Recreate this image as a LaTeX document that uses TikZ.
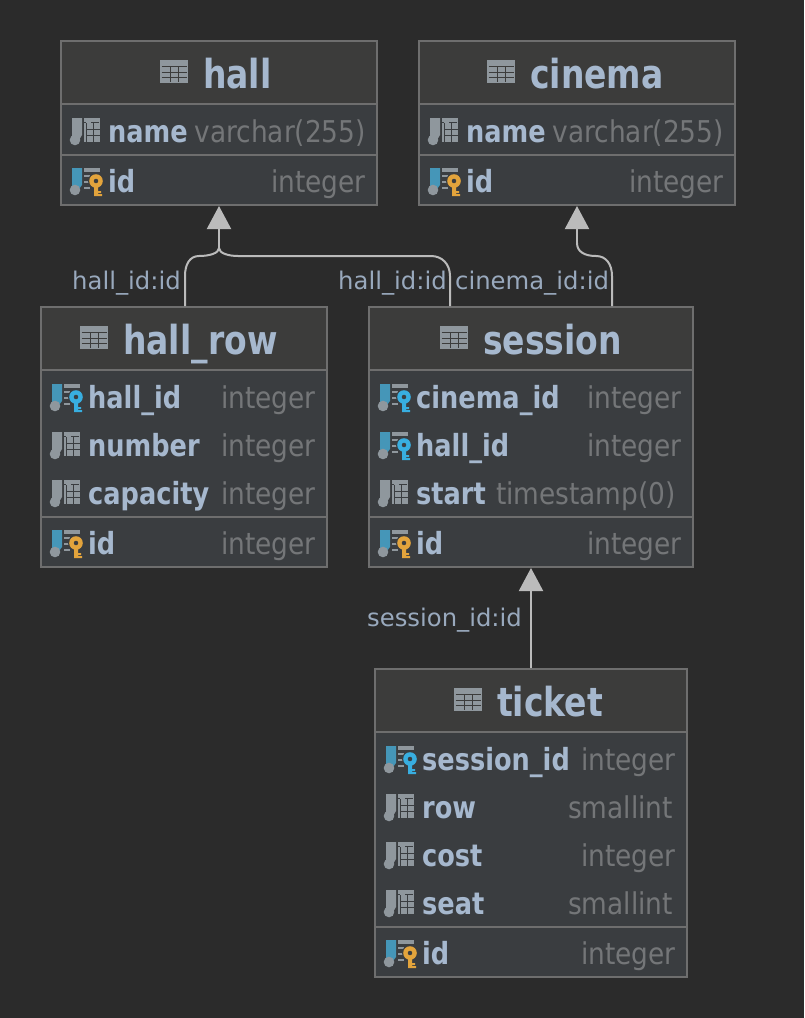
\documentclass[tikz,border=0pt]{standalone}
\usepackage{fontspec}
\setmainfont{DejaVu Sans}
\newfontfamily\narrowtitle[FakeStretch=0.825]{DejaVu Sans}
\newfontfamily\narrowbold[FakeStretch=0.84]{DejaVu Sans}
\newfontfamily\narrowtype[FakeStretch=0.88]{DejaVu Sans}
\usepackage{xcolor}
\usetikzlibrary{positioning,arrows.meta}
\definecolor{canvasbg}{HTML}{2B2B2B}
\definecolor{headbg}{HTML}{3C3C3B}
\definecolor{bodybg}{HTML}{3A3D40}
\definecolor{boxline}{HTML}{6E6E6E}
\definecolor{nametext}{HTML}{A6B8CE}
\definecolor{typetext}{HTML}{747678}
\definecolor{edgeline}{HTML}{BBBBBB}
\definecolor{icongrey}{HTML}{8F979D}
\definecolor{iconbar}{HTML}{4596B8}
\definecolor{fkkey}{HTML}{38AEE0}
\definecolor{pkkey}{HTML}{E3A43C}
\tikzset{
  headbox/.style={rectangle,draw=boxline,line width=1.5pt,fill=headbg,minimum height=63pt,inner sep=0pt,outer sep=0pt},
  bodybox/.style={rectangle,draw=boxline,line width=1.5pt,fill=bodybg,inner sep=0pt,outer sep=0pt},
  divider/.style={draw=boxline,line width=2pt},
  titletext/.style={anchor=base west,inner sep=0pt,text=nametext,font=\fontsize{40}{44}\narrowtitle\bfseries},
  colname/.style={anchor=base west,inner sep=0pt,text=nametext,font=\fontsize{30.5}{34}\narrowbold\bfseries},
  coltype/.style={anchor=base east,inner sep=0pt,text=typetext,font=\fontsize{30}{34}\narrowtype},
  edgelabel/.style={anchor=base west,inner sep=0pt,text=nametext!92!black,font=\fontsize{24.3}{29}\selectfont},
  fkedge/.style={draw=edgeline,line width=2pt},
  fktip/.style={-{Triangle[width=24pt,length=23pt,fill=edgeline]}},
  tableicon/.pic={
    \fill[icongrey] (-43,-28) rectangle (-15,-5);
    \draw[headbg,line width=1pt] (-41.5,-21.5) -- (-16.5,-21.5) (-41.5,-16) -- (-16.5,-16) (-41.5,-11) -- (-16.5,-11);
    \draw[headbg,line width=1pt] (-33,-21.5) -- (-33,-6.5) (-25,-21.5) -- (-25,-6.5);
  },
  colicon/.pic={
    \fill[icongrey] (-36,-24) -- (-26,-24) -- (-26,-7) -- (-29,-2) -- (-36,-2) -- cycle;
    \fill[icongrey] (-33,-2) circle [radius=5.3];
    \fill[icongrey] (-24,-24) rectangle (-8,0);
    \draw[bodybg,line width=1pt] (-17,-19.5) -- (-9,-19.5) (-24,-19.5) -- (-22,-19.5);
    \draw[bodybg,line width=1pt] (-22,-19) -- (-22,0);
    \draw[bodybg,line width=1pt] (-22,-13) -- (-8,-13) (-22,-7) -- (-8,-7) (-15,-19) -- (-15,0);
  },
  pics/keyicon/.style={code={
    \fill[iconbar] (-36,-24) -- (-26,-24) -- (-26,-7) -- (-29,-3) -- (-36,-3) -- cycle;
    \fill[icongrey] (-33,-2) circle [radius=5.3];
    \fill[icongrey] (-24,-24) rectangle (-8,-20);
    \draw[icongrey,line width=1.5pt] (-24,-16) -- (-18,-16) (-24,-10) -- (-18,-10) (-24,-4) -- (-18,-4);
    \fill[bodybg] (-12,-11) circle [radius=8];
    \fill[#1,even odd rule] (-12,-11) circle [radius=6.8] (-12,-11) circle [radius=2.4];
    \fill[#1] (-14,-6) rectangle (-10,4) (-10,-1) rectangle (-7,1) (-10,2) rectangle (-6,4);
  }},
}
\begin{document}
\begin{tikzpicture}[x=1pt,y=-1pt]
\fill[canvasbg] (0,0) rectangle (804,1018);

%hall
\node[headbox,minimum width=316pt,anchor=north west] (hall) at (61,41) {};
\node[bodybox,minimum width=316pt,minimum height=101pt] (hallbody) [below=0pt of hall] {};
\node[titletext] (halltitle) at ([xshift=142pt,yshift=-47pt]hall.north west) {hall};
\pic at (halltitle.base west) {tableicon};
\draw[divider] (hall.south west) -- (hall.south east);
\node[colname] (hallname) at ([xshift=47pt,yshift=-38pt]hall.south west) {name};
\node[coltype] (hallnametype) at ([xshift=-11pt]hall.east |- hallname.base) {varchar(255)};
\pic at (hallname.base west) {colicon};
\draw[divider] ([yshift=-51pt]hall.south west) -- ([yshift=-51pt]hall.south east);
\node[colname] (hallid) at ([yshift=-50pt]hallname.base west) {id};
\node[coltype] (hallidtype) at ([xshift=-11pt]hall.east |- hallid.base) {integer};
\pic at (hallid.base west) {keyicon=pkkey};

%cinema
\node[headbox,minimum width=316pt] (cinema) [right=42pt of hall] {};
\node[bodybox,minimum width=316pt,minimum height=101pt] (cinemabody) [below=0pt of cinema] {};
\node[titletext] (cinematitle) at ([xshift=111pt,yshift=-47pt]cinema.north west) {cinema};
\pic at (cinematitle.base west) {tableicon};
\draw[divider] (cinema.south west) -- (cinema.south east);
\node[colname] (cinemaname) at ([xshift=47pt,yshift=-38pt]cinema.south west) {name};
\node[coltype] (cinemanametype) at ([xshift=-11pt]cinema.east |- cinemaname.base) {varchar(255)};
\pic at (cinemaname.base west) {colicon};
\draw[divider] ([yshift=-51pt]cinema.south west) -- ([yshift=-51pt]cinema.south east);
\node[colname] (cinemaid) at ([yshift=-50pt]cinemaname.base west) {id};
\node[coltype] (cinemaidtype) at ([xshift=-11pt]cinema.east |- cinemaid.base) {integer};
\pic at (cinemaid.base west) {keyicon=pkkey};

%hall_row
\node[headbox,minimum width=286pt,anchor=north west] (hallrow) at (41,307) {};
\node[bodybox,minimum width=286pt,minimum height=197pt] (hallrowbody) [below=0pt of hallrow] {};
\node[titletext] (hallrowtitle) at ([xshift=82pt,yshift=-47pt]hallrow.north west) {hall\_row};
\pic at (hallrowtitle.base west) {tableicon};
\draw[divider] (hallrow.south west) -- (hallrow.south east);
\node[colname] (hallrowhall) at ([xshift=47pt,yshift=-38pt]hallrow.south west) {hall\_id};
\node[coltype] (hallrowhalltype) at ([xshift=-11pt]hallrow.east |- hallrowhall.base) {integer};
\pic at (hallrowhall.base west) {keyicon=fkkey};
\node[colname] (hallrownumber) at ([yshift=-48pt]hallrowhall.base west) {number};
\node[coltype] (hallrownumbertype) at ([xshift=-11pt]hallrow.east |- hallrownumber.base) {integer};
\pic at (hallrownumber.base west) {colicon};
\node[colname] (hallrowcapacity) at ([yshift=-48pt]hallrownumber.base west) {capacity};
\node[coltype] (hallrowcapacitytype) at ([xshift=-11pt]hallrow.east |- hallrowcapacity.base) {integer};
\pic at (hallrowcapacity.base west) {colicon};
\draw[divider] ([yshift=-147pt]hallrow.south west) -- ([yshift=-147pt]hallrow.south east);
\node[colname] (hallrowid) at ([yshift=-50pt]hallrowcapacity.base west) {id};
\node[coltype] (hallrowidtype) at ([xshift=-11pt]hallrow.east |- hallrowid.base) {integer};
\pic at (hallrowid.base west) {keyicon=pkkey};

%session
\node[headbox,minimum width=324pt] (session) [right=42pt of hallrow] {};
\node[bodybox,minimum width=324pt,minimum height=197pt] (sessionbody) [below=0pt of session] {};
\node[titletext] (sessiontitle) at ([xshift=114pt,yshift=-47pt]session.north west) {session};
\pic at (sessiontitle.base west) {tableicon};
\draw[divider] (session.south west) -- (session.south east);
\node[colname] (sessioncinema) at ([xshift=47pt,yshift=-38pt]session.south west) {cinema\_id};
\node[coltype] (sessioncinematype) at ([xshift=-11pt]session.east |- sessioncinema.base) {integer};
\pic at (sessioncinema.base west) {keyicon=fkkey};
\node[colname] (sessionhall) at ([yshift=-48pt]sessioncinema.base west) {hall\_id};
\node[coltype] (sessionhalltype) at ([xshift=-11pt]session.east |- sessionhall.base) {integer};
\pic at (sessionhall.base west) {keyicon=fkkey};
\node[colname] (sessionstart) at ([yshift=-48pt]sessionhall.base west) {start};
\node[coltype] (sessionstarttype) at ([xshift=-17pt]session.east |- sessionstart.base) {timestamp(0)};
\pic at (sessionstart.base west) {colicon};
\draw[divider] ([yshift=-147pt]session.south west) -- ([yshift=-147pt]session.south east);
\node[colname] (sessionid) at ([yshift=-50pt]sessionstart.base west) {id};
\node[coltype] (sessionidtype) at ([xshift=-11pt]session.east |- sessionid.base) {integer};
\pic at (sessionid.base west) {keyicon=pkkey};

%ticket
\node[headbox,minimum width=312pt,anchor=north west] (ticket) at (375,669) {};
\node[bodybox,minimum width=312pt,minimum height=245pt] (ticketbody) [below=0pt of ticket] {};
\node[titletext] (tickettitle) at ([xshift=122pt,yshift=-47pt]ticket.north west) {ticket};
\pic at (tickettitle.base west) {tableicon};
\draw[divider] (ticket.south west) -- (ticket.south east);
\node[colname] (ticketsession) at ([xshift=47pt,yshift=-38pt]ticket.south west) {session\_id};
\node[coltype] (ticketsessiontype) at ([xshift=-11pt]ticket.east |- ticketsession.base) {integer};
\pic at (ticketsession.base west) {keyicon=fkkey};
\node[colname] (ticketrow) at ([yshift=-48pt]ticketsession.base west) {row};
\node[coltype] (ticketrowtype) at ([xshift=-14pt]ticket.east |- ticketrow.base) {smallint};
\pic at (ticketrow.base west) {colicon};
\node[colname] (ticketcost) at ([yshift=-48pt]ticketrow.base west) {cost};
\node[coltype] (ticketcosttype) at ([xshift=-11pt]ticket.east |- ticketcost.base) {integer};
\pic at (ticketcost.base west) {colicon};
\node[colname] (ticketseat) at ([yshift=-48pt]ticketcost.base west) {seat};
\node[coltype] (ticketseattype) at ([xshift=-14pt]ticket.east |- ticketseat.base) {smallint};
\pic at (ticketseat.base west) {colicon};
\draw[divider] ([yshift=-195pt]ticket.south west) -- ([yshift=-195pt]ticket.south east);
\node[colname] (ticketid) at ([yshift=-50pt]ticketseat.base west) {id};
\node[coltype] (ticketidtype) at ([xshift=-11pt]ticket.east |- ticketid.base) {integer};
\pic at (ticketid.base west) {keyicon=pkkey};

%edges
\coordinate (hallin) at (219,206);
\coordinate (hallmerge) at (219,248);
\coordinate (rowout) at (185,306);
\coordinate (sessionhallout) at (450,306);
\coordinate (cinemain) at (577,206);
\coordinate (cinemabend) at (577,243);
\coordinate (sessioncinemaout) at (612,306);
\coordinate (sessionin) at (531,568);
\coordinate (ticketout) at (531,668);

\draw[fkedge] (rowout) -- (185,276) .. controls (185,264) and (190,256) .. (199,256) .. controls (210,256) and (219,253) .. (hallmerge);
\draw[fkedge] (sessionhallout) -- (450,276) .. controls (450,264) and (442,256) .. (431,256) -- (238,256) .. controls (228,256) and (219,253) .. (hallmerge);
\draw[fkedge,fktip] (hallmerge) -- (hallin);
\draw[fkedge] (sessioncinemaout) -- (612,276) .. controls (612,264) and (606,256) .. (596,256) .. controls (585,256) and (577,252) .. (cinemabend);
\draw[fkedge,fktip] (cinemabend) -- (cinemain);
\draw[fkedge,fktip] (ticketout) -- (sessionin);

\node[edgelabel] (rowlabel) at (72,289) {hall\_id:id};
\node[edgelabel] (sessionhalllabel) at (338,289) {hall\_id:id};
\node[edgelabel] (sessioncinemalabel) at (455,289) {cinema\_id:id};
\node[edgelabel] (ticketlabel) at (367,626) {session\_id:id};
\end{tikzpicture}
\end{document}
